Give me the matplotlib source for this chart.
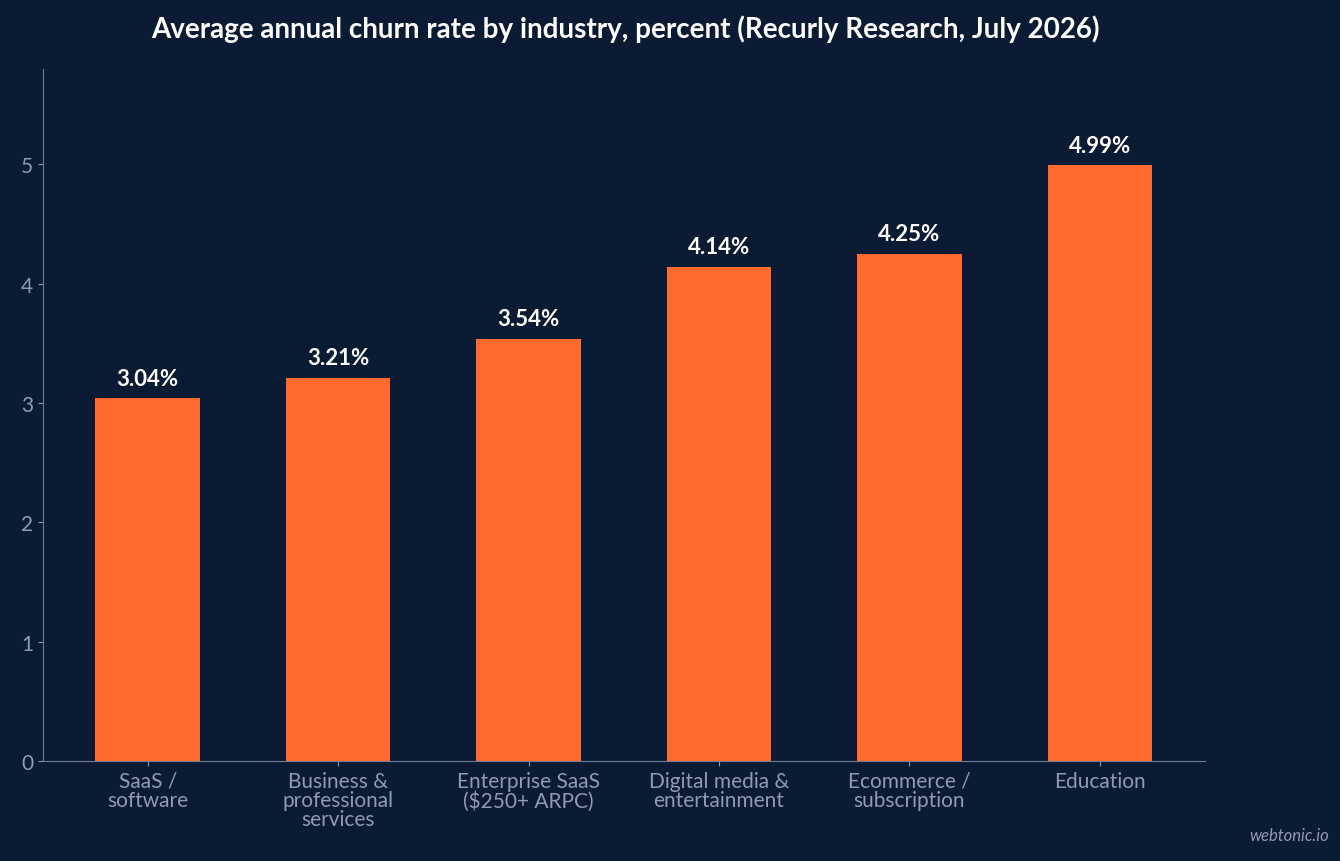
import matplotlib.pyplot as plt

categories = ["SaaS /\nsoftware", "Business &\nprofessional\nservices", "Enterprise SaaS\n($250+ ARPC)",
              "Digital media &\nentertainment", "Ecommerce /\nsubscription", "Education"]
churn = [3.04, 3.21, 3.54, 4.14, 4.25, 4.99]

bg = '#0b1b33'
plt.rcParams['font.family'] = ['Lato', 'DejaVu Sans']

fig = plt.figure(figsize=(13.4, 8.62), dpi=100, facecolor=bg)
ax = fig.add_axes([0.032, 0.116, 0.867, 0.803], facecolor=bg)

x = range(len(categories))
ax.bar(x, churn, width=0.55, color='#ff6b2f')
for i, v in zip(x, churn):
    ax.text(i, v + 0.08, f"{v:.2f}%", ha='center', va='bottom', color='white',
            fontsize=16, fontweight='bold')

ax.set_xlim(-0.55, 5.55)
ax.set_ylim(0, 5.8)
ax.set_xticks(list(x))
ax.set_xticklabels(categories, fontsize=15, color='#8e9bb0', linespacing=0.95)
ax.set_yticks(range(6))
ax.tick_params(axis='y', labelsize=15, labelcolor='#8e9bb0', color='#8e9bb0')
ax.tick_params(axis='x', color='#8e9bb0')
for s in ['top', 'right']:
    ax.spines[s].set_visible(False)
for s in ['left', 'bottom']:
    ax.spines[s].set_color('#6f7d94')

fig.text(0.467, 0.966, "Average annual churn rate by industry, percent (Recurly Research, July 2026)",
         ha='center', va='center', color='white', fontsize=20, fontweight='bold')
fig.text(0.992, 0.03, "webtonic.io", ha='right', va='center', color='#8e9bb0',
         fontsize=12, style='italic')

fig.savefig('out.png', dpi=100, facecolor=bg)
